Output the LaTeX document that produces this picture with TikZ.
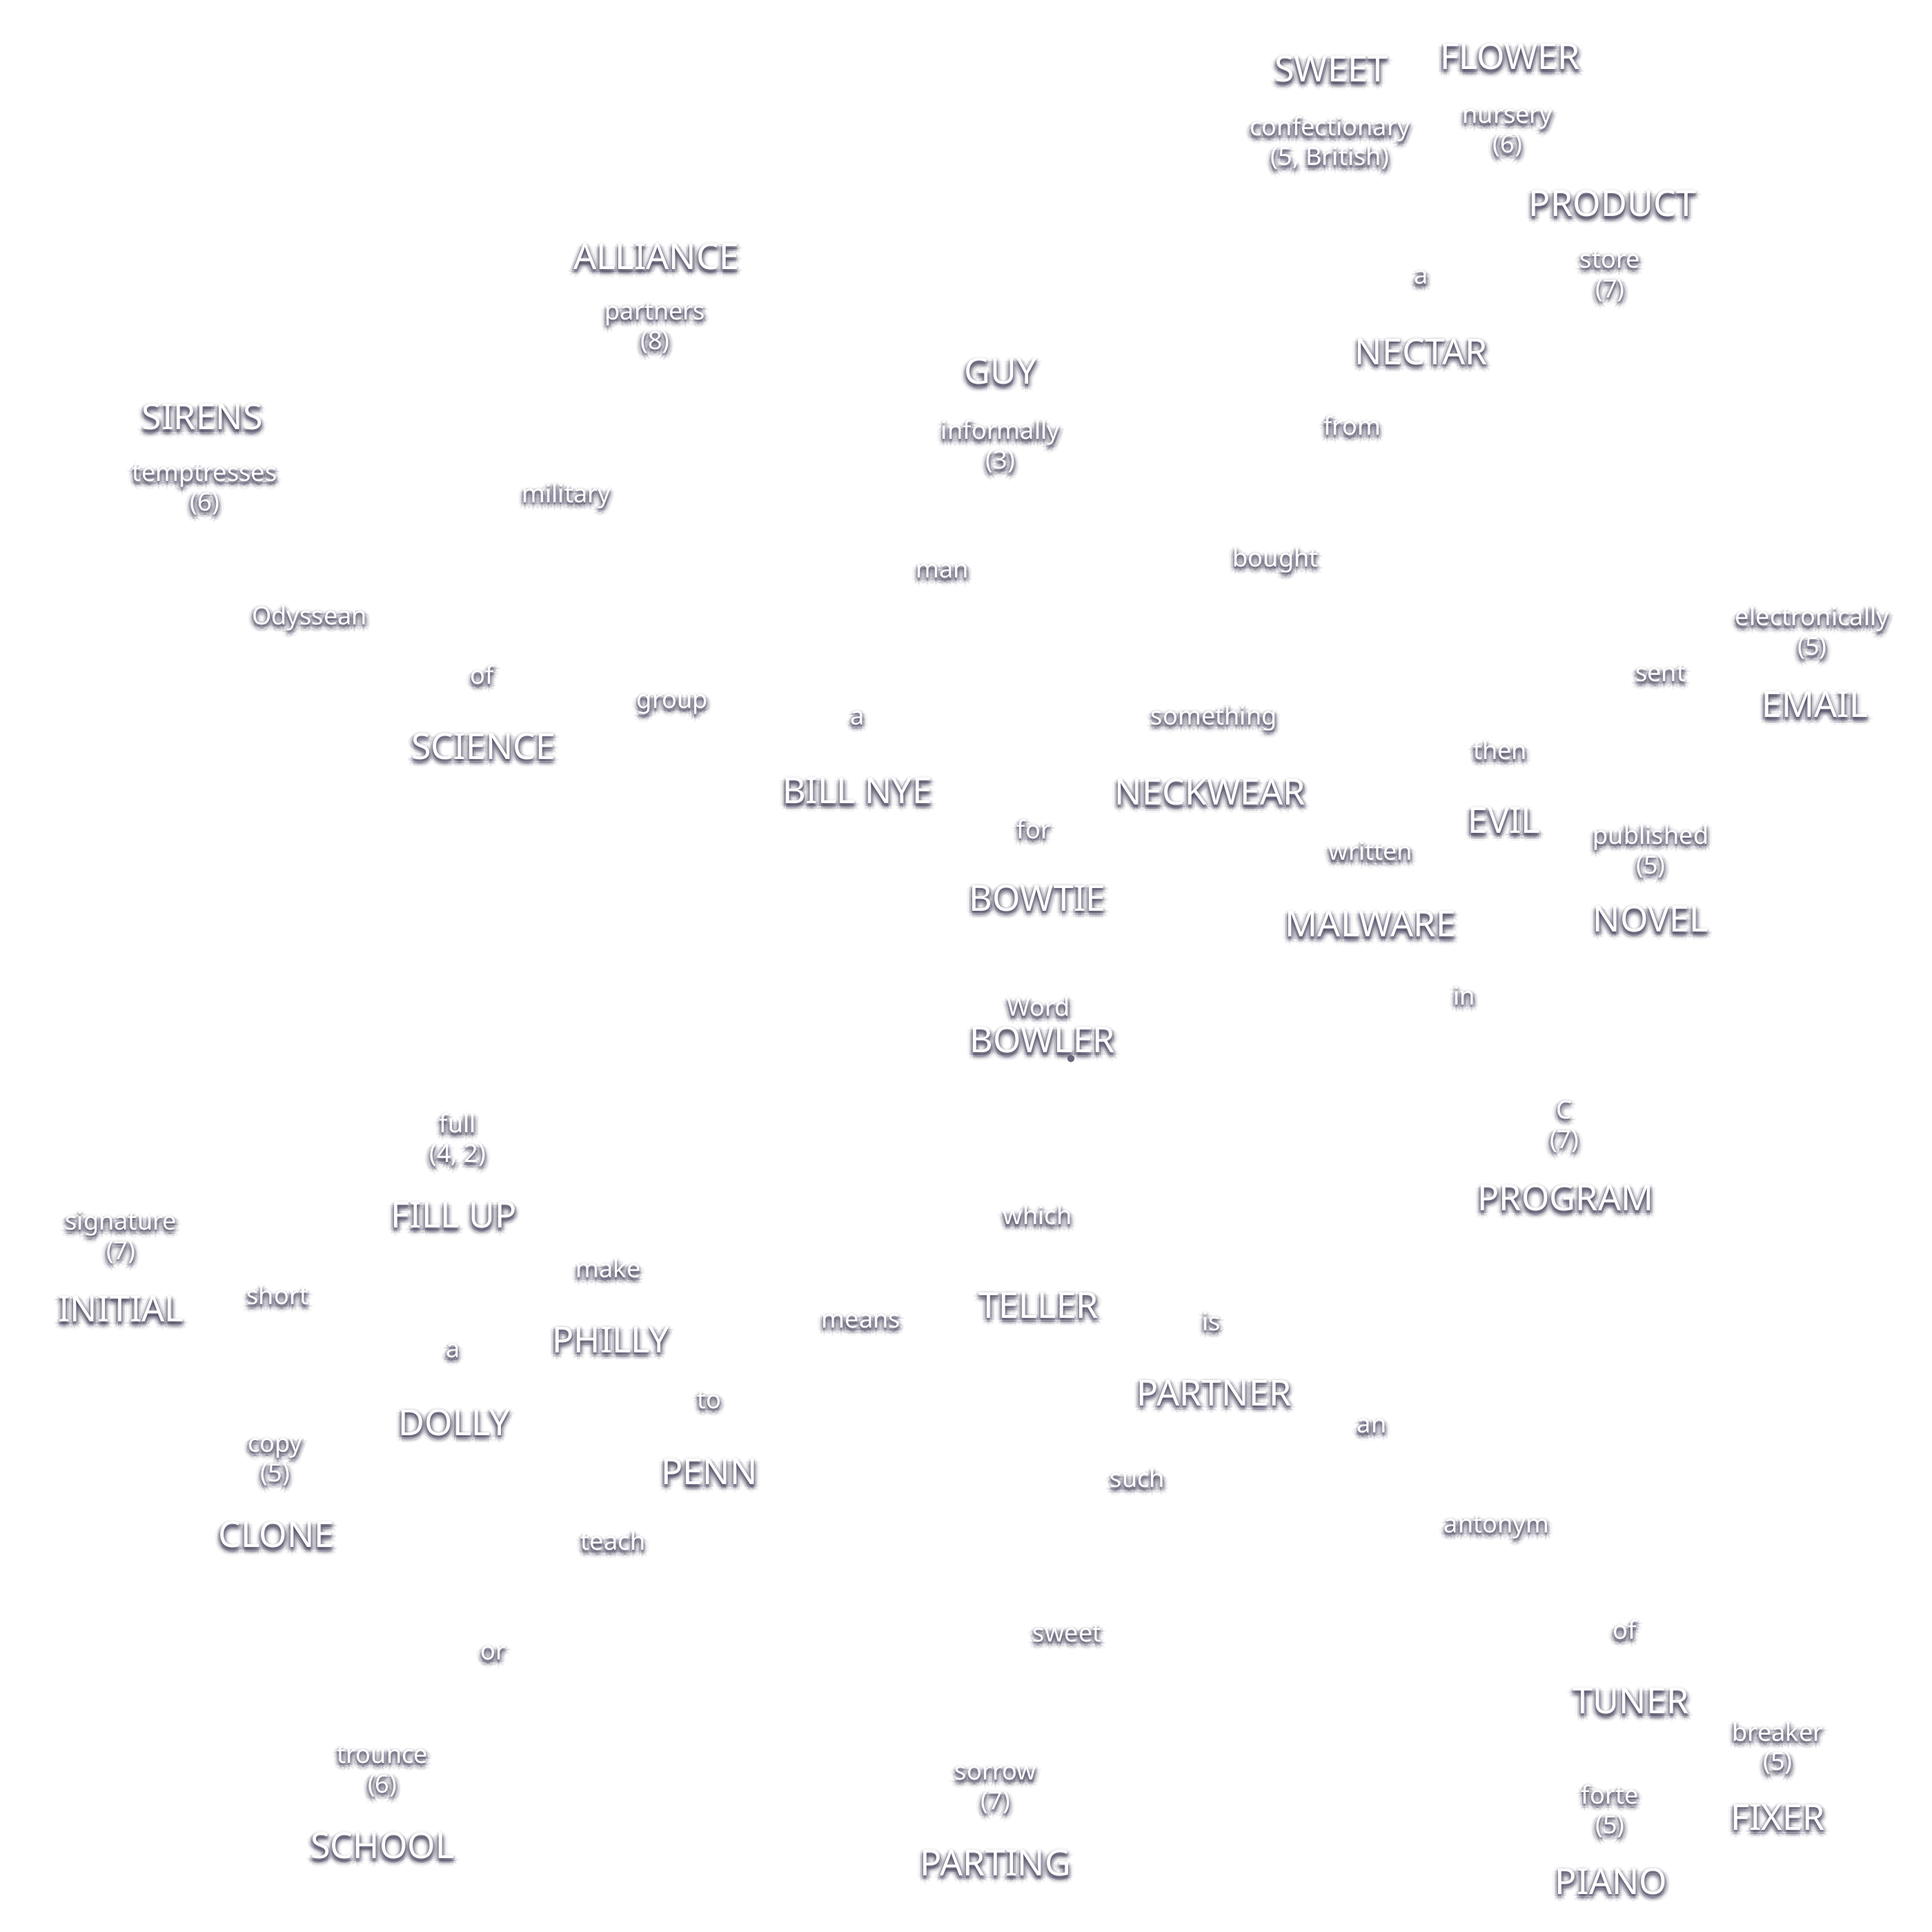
\documentclass[tikz,border=0pt]{standalone}
\usepackage{fontspec}
\setmainfont{Noto Sans}
\usepackage{tikz}
\usepackage{xcolor}
\definecolor{haze}{RGB}{66,62,88}
\tikzset{
    bigword/.style={text=white, font=\fontsize{14.8}{16}\selectfont, inner sep=0pt},
    clueword/.style={text=white, font=\fontsize{10.3}{12.2}\selectfont, align=center, inner sep=0pt},
}
\newcommand{\glow}[4]{%
    \foreach \gx/\gy/\go in {0/2/0.3, 1.5/2/0.16, -1.5/2/0.16, 0/0.5/0.16, 0/3.5/0.16,
        1.2/0.8/0.14, -1.2/0.8/0.14, 1.2/3.2/0.14, -1.2/3.2/0.14,
        3/2/0.1, -3/2/0.1, 0/5/0.1, 2.2/4.2/0.1, -2.2/4.2/0.1, 2.2/-0.2/0.08, -2.2/-0.2/0.08,
        4.5/2/0.05, -4.5/2/0.05, 0/6.5/0.05, 0/-1.5/0.04, 3.2/5.2/0.05, -3.2/5.2/0.05}
        \node[#3, text=haze, text opacity=\go] at ([shift={(\gx,\gy)}]#2) {#4};
    \node[#3] (#1) at (#2) {#4};
}

\begin{document}
\begin{tikzpicture}[x=0.01788cm, y=-0.01788cm]
        \fill[white] (0,0) rectangle (1566,1566);
        \useasboundingbox (0,0) rectangle (1566,1566);
        \glow{sweet}{1079,56}{bigword}{SWEET}
        \glow{flower}{1224,46}{bigword}{FLOWER}
        \glow{product}{1307,165}{bigword}{PRODUCT}
        \glow{alliance}{532,208}{bigword}{ALLIANCE}
        \glow{nectar}{1152,285}{bigword}{NECTAR}
        \glow{guy}{811,301}{bigword}{GUY}
        \glow{sirens}{164,338}{bigword}{SIRENS}
        \glow{email}{1471,571}{bigword}{EMAIL}
        \glow{science}{392,605}{bigword}{SCIENCE}
        \glow{billnye}{695,641}{bigword}{BILL NYE}
        \glow{neckwear}{981,642}{bigword}{NECKWEAR}
        \glow{evil}{1219,665}{bigword}{EVIL}
        \glow{bowtie}{841,728}{bigword}{BOWTIE}
        \glow{malware}{1111,749}{bigword}{MALWARE}
        \glow{novel}{1338,745}{bigword}{NOVEL}
        \glow{bowler}{845,843}{bigword}{BOWLER}
        \glow{program}{1269,971}{bigword}{PROGRAM}
        \glow{fillup}{368,985}{bigword}{FILL UP}
        \glow{initial}{98,1061}{bigword}{INITIAL}
        \glow{teller}{842,1058}{bigword}{TELLER}
        \glow{philly}{495,1086}{bigword}{PHILLY}
        \glow{partner}{984,1129}{bigword}{PARTNER}
        \glow{dolly}{368,1153}{bigword}{DOLLY}
        \glow{penn}{575,1193}{bigword}{PENN}
        \glow{clone}{224,1244}{bigword}{CLONE}
        \glow{tuner}{1322,1379}{bigword}{TUNER}
        \glow{fixer}{1441,1473}{bigword}{FIXER}
        \glow{school}{310,1496}{bigword}{SCHOOL}
        \glow{parting}{807,1510}{bigword}{PARTING}
        \glow{piano}{1306,1525}{bigword}{PIANO}
        \glow{confect}{1078,116}{clueword}{confectionary\\(5, British)}
        \glow{nursery}{1222,108}{clueword}{nursery\\(6)}
        \glow{aNectar}{1152,225}{clueword}{a}
        \glow{store}{1305,224}{clueword}{store\\(7)}
        \glow{partners}{531,266}{clueword}{partners\\(8)}
        \glow{informally}{811,362}{clueword}{informally\\(3)}
        \glow{from}{1096,345}{clueword}{from}
        \glow{temptresses}{166,397}{clueword}{temptresses\\(6)}
        \glow{military}{459,402}{clueword}{military}
        \glow{bought}{1034,454}{clueword}{bought}
        \glow{man}{764,463}{clueword}{man}
        \glow{electronically}{1469,513}{clueword}{electronically\\(5)}
        \glow{odyssean}{251,501}{clueword}{Odyssean}
        \glow{sent}{1346,546}{clueword}{sent}
        \glow{ofScience}{391,547}{clueword}{of}
        \glow{group}{545,571}{clueword}{group}
        \glow{aBill}{695,582}{clueword}{a}
        \glow{something}{984,582}{clueword}{something}
        \glow{then}{1216,608}{clueword}{then}
        \glow{for}{838,672}{clueword}{for}
        \glow{published}{1338,690}{clueword}{published\\(5)}
        \glow{written}{1111,690}{clueword}{written}
        \glow{in}{1187,807}{clueword}{in}
        \glow{word}{842,816}{clueword}{Word}
        \glow{cseven}{1268,913}{clueword}{C\\(7)}
        \glow{full}{371,924}{clueword}{full\\(4, 2)}
        \glow{signature}{98,1003}{clueword}{signature\\(7)}
        \glow{which}{841,985}{clueword}{which}
        \glow{make}{493,1028}{clueword}{make}
        \glow{short}{225,1050}{clueword}{short}
        \glow{means}{698,1071}{clueword}{means}
        \glow{is}{982,1071}{clueword}{is}
        \glow{aDolly}{367,1095}{clueword}{a}
        \glow{to}{575,1135}{clueword}{to}
        \glow{an}{1112,1156}{clueword}{an}
        \glow{copy}{223,1185}{clueword}{copy\\(5)}
        \glow{such}{922,1198}{clueword}{such}
        \glow{antonym}{1213,1238}{clueword}{antonym}
        \glow{teach}{497,1249}{clueword}{teach}
        \glow{sweetlow}{865,1324}{clueword}{sweet}
        \glow{ofTuner}{1317,1321}{clueword}{of}
        \glow{or}{400,1340}{clueword}{or}
        \glow{breaker}{1441,1417}{clueword}{breaker\\(5)}
        \glow{trounce}{310,1436}{clueword}{trounce\\(6)}
        \glow{sorrow}{807,1451}{clueword}{sorrow\\(7)}
        \glow{forte}{1305,1468}{clueword}{forte\\(5)}
        \node[circle, fill=haze!80, inner sep=0pt, minimum size=3] (bowlerdot) at (868,858) {};
    \end{tikzpicture}
\end{document}
